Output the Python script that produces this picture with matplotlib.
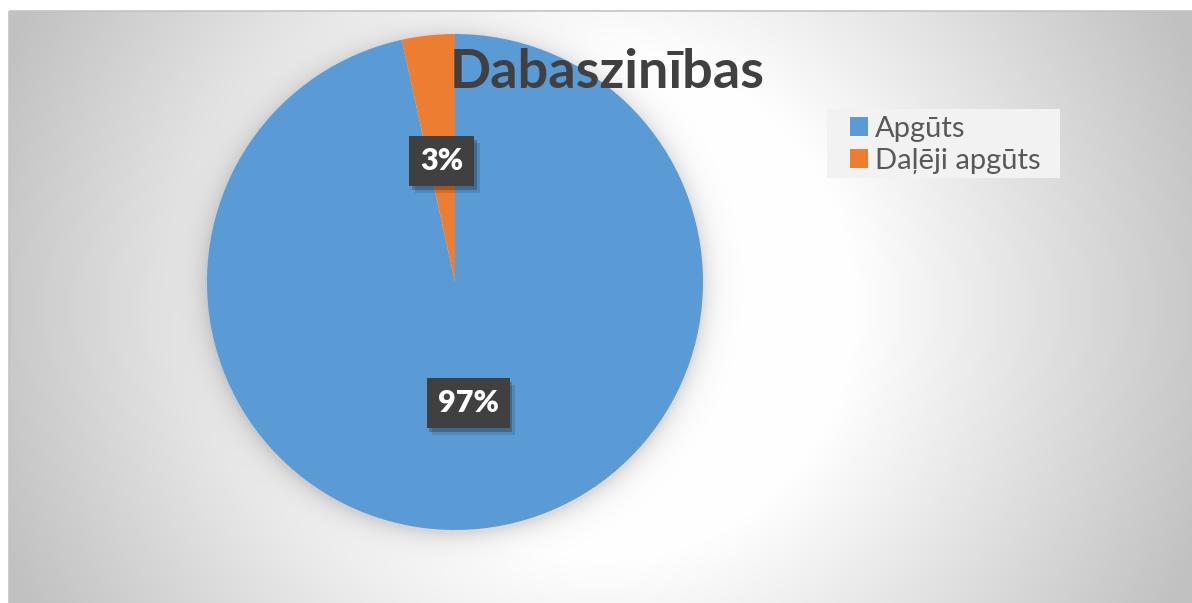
import matplotlib.pyplot as plt
import matplotlib.patheffects as pe
from matplotlib.patches import Patch, Rectangle
import numpy as np

# ── data ─────────────────────────────────────────────────────────────
categories = ["Apgūts", "Daļēji apgūts"]
counts = [28, 1]
colors = ["#5B9BD5", "#ED7D31"]
title = "Dabaszinības"

W, H = 1192, 603
plt.rcParams["font.family"] = ["Lato", "DejaVu Sans"]
plt.rcParams["hatch.color"] = "#5c5c5c"
plt.rcParams["hatch.linewidth"] = 1.5

fig = plt.figure(figsize=(W / 100, H / 100), dpi=100)

# pie placement in pixels (layout only)
CX, CY, R = 455, 282, 248

# ── background: radial gray gradient + soft shadow around the pie ────
bg = fig.add_axes([0, 0, 1, 1])
yy, xx = np.mgrid[0:H, 0:W] + 0.5
r = np.hypot(xx - 600, yy - 307)
val = np.clip(1 - (r - 250) / 350 * 0.215, 0.76, 1.0)
d = np.hypot(xx - CX, yy - (CY + 3)) - R
shadow = np.where(d > 0, 0.14 * np.exp(-d / 11), 0.14)
val = val * (1 - shadow)
val[(xx < 9) | (yy < 11)] = 1.0
bg.imshow(np.dstack([val] * 3), extent=(0, W, H, 0), interpolation="bilinear")
bg.add_patch(Rectangle((9, 11), W, H, fill=False, edgecolor="#c4c4c4", linewidth=1.2))
# legend background panel
bg.add_patch(Rectangle((827, 109), 233, 69, facecolor="#f2f2f2", edgecolor="none"))
bg.set_xlim(0, W)
bg.set_ylim(H, 0)
bg.axis("off")

# ── pie ──────────────────────────────────────────────────────────────
ax = fig.add_axes([(CX - R) / W, (H - CY - R) / H, 2 * R / W, 2 * R / H])
wedges, texts, autotexts = ax.pie(
    counts, colors=colors, startangle=90, counterclock=False,
    autopct="%.0f%%", pctdistance=0.49,
    wedgeprops=dict(linewidth=0),
    textprops=dict(color="white", fontsize=22, fontweight="heavy"),
)
ax.set_xlim(-1, 1)
ax.set_ylim(-1, 1)
ax.set_aspect("auto")

for t in autotexts:
    t.set_bbox(dict(boxstyle="square,pad=0.36", facecolor="#404040",
                    edgecolor="none", hatch=".."))
    t.get_bbox_patch().set_path_effects([
        pe.SimplePatchShadow(offset=(4, -5), shadow_rgbFace="black", alpha=0.12),
        pe.SimplePatchShadow(offset=(2, -3), shadow_rgbFace="black", alpha=0.22),
        pe.Normal(),
    ])

# ── title ────────────────────────────────────────────────────────────
fig.text(607 / W, 1 - 88 / H, title, ha="center", va="baseline",
         fontsize=39, fontweight="bold", color="#404040")

# ── legend ───────────────────────────────────────────────────────────
handles = [Patch(facecolor=c, edgecolor="none") for c in colors]
fig.legend(handles, categories, loc="upper left",
           bbox_to_anchor=(850 / W, 1 - 116 / H), borderaxespad=0,
           frameon=False, fontsize=21, labelcolor="#595959",
           handlelength=0.6, handleheight=0.6, handletextpad=0.25,
           labelspacing=0.2, borderpad=0)

fig.savefig("out.png", dpi=100)
